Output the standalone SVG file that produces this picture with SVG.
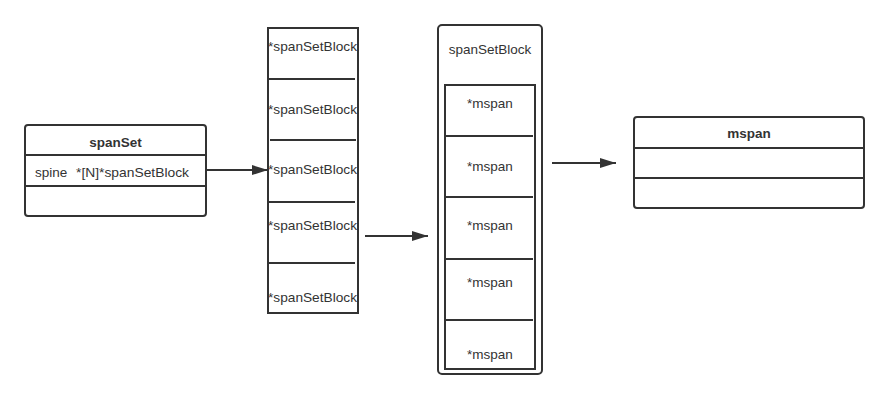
<svg xmlns="http://www.w3.org/2000/svg" width="889" height="400" viewBox="0 0 889 400">
<defs>
<marker id="arr" markerWidth="16" markerHeight="10" refX="16" refY="5" orient="auto" markerUnits="userSpaceOnUse">
<path d="M0,0 L16,5 L0,10 Z" fill="#333"/>
</marker>
<style>
.box{fill:#fff;stroke:#333;stroke-width:2}
.ln{stroke:#333;stroke-width:2;fill:none}
.t{font-family:"Liberation Sans",Arial,sans-serif;font-size:13.5px;fill:#333}
.c{text-anchor:middle}
.b{font-weight:bold}
.con{stroke:#333;stroke-width:2;fill:none;marker-end:url(#arr)}
</style>
</defs>
<rect width="889" height="400" fill="#fff"/>
<g id="spanSet">
<rect class="box" x="25" y="125" width="181" height="91" rx="3"/>
<line class="ln" x1="25" y1="155" x2="206" y2="155"/>
<line class="ln" x1="25" y1="186" x2="206" y2="186"/>
<text class="t c b" x="115.5" y="147">spanSet</text>
<text class="t" x="35" y="177">spine</text>
<text class="t" x="76" y="177" textLength="113" lengthAdjust="spacingAndGlyphs">*[N]*spanSetBlock</text>
</g>
<g id="spine">
<rect class="box" x="268" y="28" width="90" height="285"/>
<line class="ln" x1="268" y1="79" x2="355" y2="79"/>
<line class="ln" x1="270" y1="140" x2="356" y2="140"/>
<line class="ln" x1="268" y1="202" x2="355" y2="202"/>
<line class="ln" x1="268" y1="263" x2="355" y2="263"/>
<text class="t" x="268" y="51" textLength="89" lengthAdjust="spacingAndGlyphs">*spanSetBlock</text>
<text class="t" x="268" y="114" textLength="89" lengthAdjust="spacingAndGlyphs">*spanSetBlock</text>
<text class="t" x="268" y="174" textLength="89" lengthAdjust="spacingAndGlyphs">*spanSetBlock</text>
<text class="t" x="268" y="230" textLength="89" lengthAdjust="spacingAndGlyphs">*spanSetBlock</text>
<text class="t" x="268" y="302" textLength="89" lengthAdjust="spacingAndGlyphs">*spanSetBlock</text>
</g>
<g id="spanSetBlock">
<rect class="box" x="438" y="25" width="104" height="349" rx="4"/>
<text class="t c" x="490" y="54">spanSetBlock</text>
<rect class="box" x="445" y="85" width="90" height="284"/>
<line class="ln" x1="445" y1="136" x2="533" y2="136"/>
<line class="ln" x1="445" y1="197" x2="533" y2="197"/>
<line class="ln" x1="445" y1="259" x2="533" y2="259"/>
<line class="ln" x1="445" y1="320" x2="533" y2="320"/>
<text class="t c" x="490" y="108">*mspan</text>
<text class="t c" x="490" y="171">*mspan</text>
<text class="t c" x="490" y="230">*mspan</text>
<text class="t c" x="490" y="287">*mspan</text>
<text class="t c" x="490" y="359">*mspan</text>
</g>
<g id="mspan">
<rect class="box" x="634" y="117" width="230" height="91" rx="3"/>
<line class="ln" x1="634" y1="148" x2="864" y2="148"/>
<line class="ln" x1="634" y1="178" x2="864" y2="178"/>
<text class="t c b" x="749" y="138">mspan</text>
</g>
<g id="connectors">
<line class="con" x1="206" y1="170" x2="268" y2="170"/>
<line class="con" x1="365" y1="236" x2="428" y2="236"/>
<line class="con" x1="552" y1="163" x2="616" y2="163"/>
</g>
</svg>
